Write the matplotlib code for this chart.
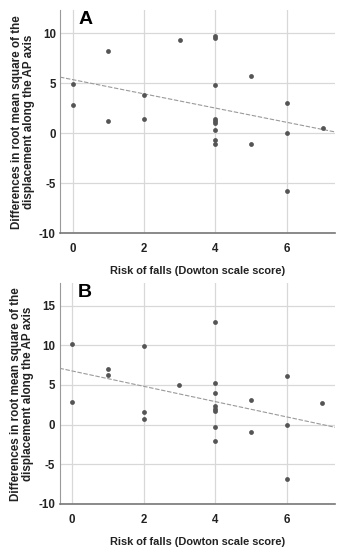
import numpy as np
import matplotlib
matplotlib.use("Agg")
import matplotlib.pyplot as plt

plt.rcParams['font.family'] = ['Liberation Sans', 'DejaVu Sans']
plt.rcParams['axes.unicode_minus'] = False

# Panel A data
a_x = [0, 0, 1, 1, 2, 2, 3, 4, 4, 4, 4, 4, 4, 4, 4, 4, 5, 5, 6, 6, 6, 7]
a_y = [4.95, 2.85, 8.2, 1.25, 3.8, 1.4, 9.35, 9.7, 9.5, 4.85, 1.45, 1.25, 1.05, 0.35, -0.65, -1.05, 5.75, -1.05, 3.0, 0.05, -5.75, 0.55]

# Panel B data
b_x = [0, 0, 1, 1, 2, 2, 2, 3, 4, 4, 4, 4, 4, 4, 4, 4, 5, 5, 6, 6, 6, 7]
b_y = [10.15, 2.9, 6.95, 6.2, 9.9, 1.65, 0.65, 5.0, 12.9, 5.3, 4.0, 2.3, 1.95, 1.7, -0.3, -2.05, 3.1, -0.9, 6.15, 0.0, -6.85, 2.75]

x_ticks = [0, 2, 4, 6]
a_yticks = [-10, -5, 0, 5, 10]
b_yticks = [-10, -5, 0, 5, 10, 15]

xlabel = "Risk of falls (Dowton scale score)"
ylabel = "Differences in root mean square of the\ndisplacement along the AP axis"

W, H = 351, 550
fig = plt.figure(figsize=(W / 100, H / 100), dpi=100)


def panel(rect, xs, ys, yticks, ylim, letter):
    l, t, r, b = rect
    ax = fig.add_axes([l / W, (H - b) / H, (r - l) / W, (b - t) / H])
    ax.set_xlim(-0.35, 7.35)
    ax.set_ylim(*ylim)
    ax.set_xticks(x_ticks)
    ax.set_yticks(yticks)
    ax.grid(True, color='#d8d8d8', linewidth=0.9)
    ax.set_axisbelow(True)
    for s in ['top', 'right']:
        ax.spines[s].set_visible(False)
    ax.spines['left'].set_color('#9a9a9a')
    ax.spines['bottom'].set_color('#777777')
    ax.spines['bottom'].set_linewidth(1.2)
    ax.tick_params(length=0, labelsize=8.3, colors='#222222')
    ax.tick_params(axis='y', pad=3)
    ax.tick_params(axis='x', pad=7)
    for lab in ax.get_xticklabels() + ax.get_yticklabels():
        lab.set_fontweight('bold')
    ax.scatter(xs, ys, s=12, color='#555555', zorder=3, linewidths=0)
    k, c = np.polyfit(xs, ys, 1)
    xl = np.array([-0.35, 7.35])
    ax.plot(xl, k * xl + c, color='#9a9a9a', linewidth=0.8, linestyle=(0, (4, 1.5)), zorder=2)
    ax.set_xlabel(xlabel, fontsize=7.9, fontweight='bold', color='#222222', labelpad=8)
    ax.set_ylabel(ylabel, fontsize=8.4, fontweight='bold', color='#222222', labelpad=3,
                  linespacing=1.0)
    ax.text(0.068, 0.995, letter, transform=ax.transAxes, fontsize=14, fontweight='bold',
            va='top', ha='left', color='black')
    return ax


panel((60, 10, 335, 233.3), a_x, a_y, a_yticks, (-10, 12.3), 'A')
panel((59.5, 283.3, 335, 504), b_x, b_y, b_yticks, (-10, 17.8), 'B')

fig.savefig('out.png', dpi=100)
